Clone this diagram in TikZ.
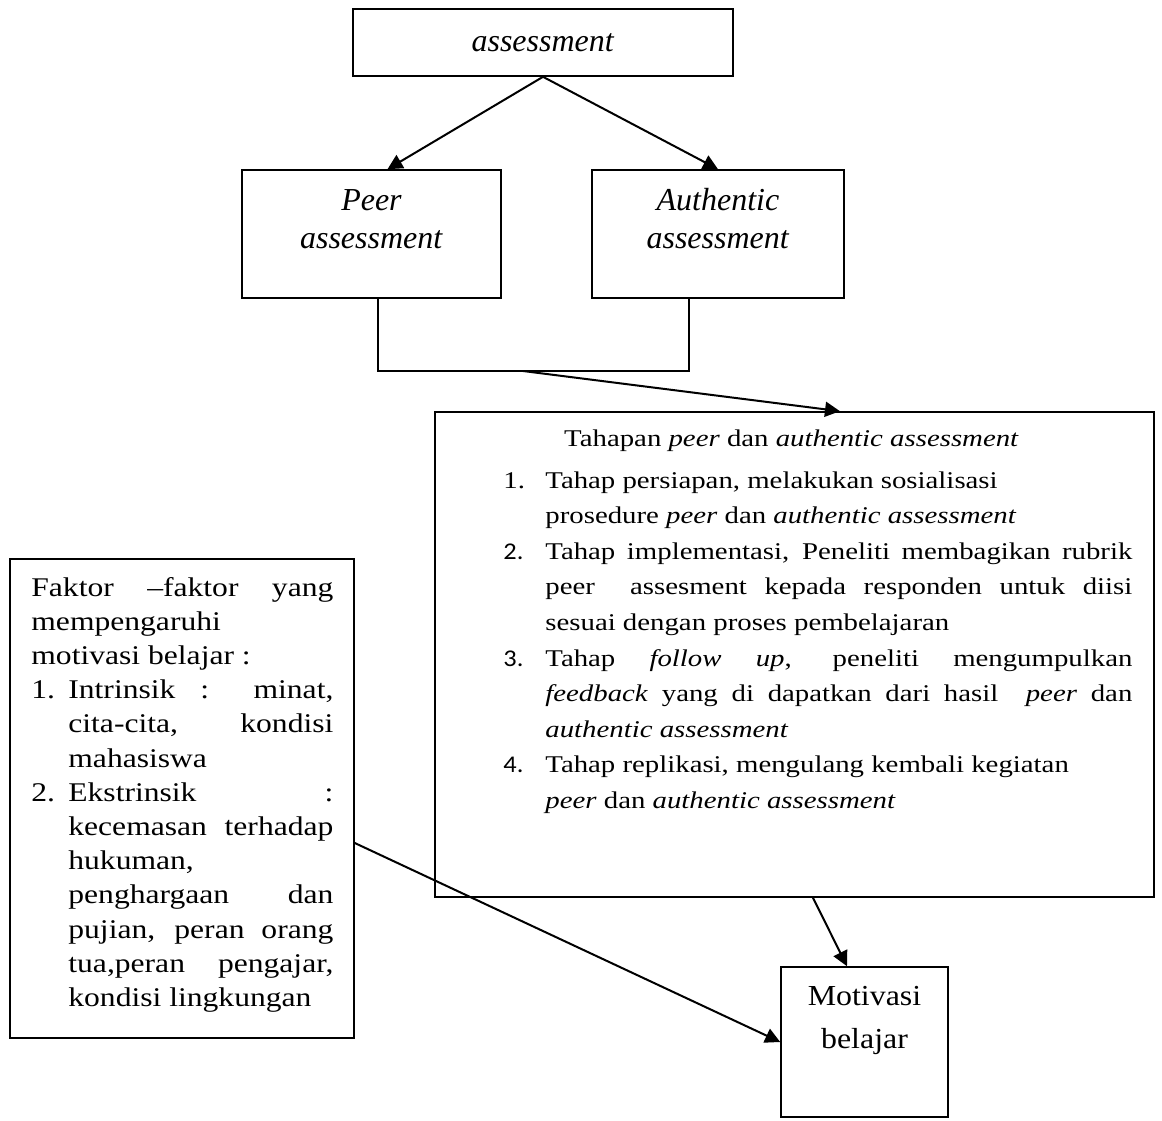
\documentclass[tikz,border=0pt]{standalone}
\usepackage{fontspec}
\setmainfont{Liberation Serif}
\newfontfamily\wideserif{Liberation Serif}[FakeStretch=1.2]
\newfontfamily\midserif{Liberation Serif}[FakeStretch=1.17]
\newfontfamily\lowserif{Liberation Serif}[FakeStretch=1.1]
\newfontfamily\calnum{Carlito}[FakeStretch=1.1]
\usetikzlibrary{arrows.meta,positioning}
\newcommand{\hangitem}[2]{\par\noindent\hangindent=#1\hangafter=1\makebox[#1][l]{#2}}
\hbadness=10000

\begin{document}
\begin{tikzpicture}
	[x=0.5pt,y=-0.5pt,
	box/.style={draw,line width=0.8pt,inner sep=0pt},
	txt/.style={inner sep=0pt,anchor=base},
	arr/.style={-{Triangle[length=7.5pt,width=7.5pt]},line width=1pt}]
	\useasboundingbox (0,0) rectangle (1162,1120);
	\node (asm) [box,minimum width=190pt,minimum height=33.5pt] at (543,42.5) {\fontsize{16}{19}\selectfont\textit{assessment}};
	\node (peer) [box,minimum width=129.5pt,minimum height=64pt] at (371.5,234) {};
	\node (auth) [box,minimum width=126pt,minimum height=64pt] at (718,234) {};
	\node (steps) [box,minimum width=359.5pt,minimum height=242.5pt] at (794.5,654.5) {};
	\node (faktor) [box,minimum width=172pt,minimum height=239.5pt] at (182,798.5) {};
	\node (motiv) [box,minimum width=83.5pt,minimum height=75pt] at (864.5,1042) {};
	
	\node (peertxt) [txt] at (371.5,210) {\parbox[t]{125pt}{\centering\fontsize{16}{19}\selectfont\textit{Peer}\\\textit{assessment}}};
	\node (authtxt) [txt] at (718,210) {\parbox[t]{122pt}{\centering\fontsize{16}{19}\selectfont\textit{Authentic}\\\textit{assessment}}};
	
	\node (stepstitle) [txt] at (791.5,446) {\wideserif\fontsize{12}{17.8}\selectfont Tahapan \textit{peer} dan \textit{authentic assessment}};
	\node (steplist) [txt,anchor=base west] at (503,488) {\parbox[t]{314.5pt}{\wideserif\fontsize{12}{17.8}\selectfont
		\hangitem{21pt}{1.}Tahap persiapan, melakukan sosialisasi\newline prosedure \textit{peer} dan \textit{authentic assessment}
		\hangitem{21pt}{\calnum 2.}Tahap implementasi, Peneliti membagikan rubrik\linebreak peer\ \ assesment kepada responden untuk diisi\linebreak sesuai dengan proses pembelajaran
		\hangitem{21pt}{\calnum 3.}Tahap \textit{follow up}, peneliti mengumpulkan\linebreak \textit{feedback} yang di dapatkan dari hasil\ \ \textit{peer} dan\linebreak \textit{authentic assessment}
		\hangitem{21pt}{\calnum 4.}Tahap replikasi, mengulang kembali kegiatan\newline \textit{peer} dan \textit{authentic assessment}}};
	
	\node (faktortxt) [txt,anchor=base west] at (31,596) {\parbox[t]{151pt}{\midserif\fontsize{13.5}{17.1}\selectfont
		Faktor –faktor yang\linebreak mempengaruhi\newline motivasi belajar :
		\hangitem{18.5pt}{1.}Intrinsik : minat,\linebreak cita-cita, kondisi\linebreak mahasiswa
		\hangitem{18.5pt}{2.}Ekstrinsik :\linebreak kecemasan terhadap\linebreak hukuman,\newline penghargaan dan\linebreak pujian, peran orang\linebreak tua,peran pengajar,\linebreak kondisi lingkungan}};
	
	\node (motivtxt) [txt] at (864.5,1005) {\parbox[t]{83.5pt}{\centering\lowserif\fontsize{14.5}{21.5}\selectfont Motivasi\\belajar}};
	
	\coordinate (jl) at (378,371);
	\coordinate (jr) at (689,371);
	\coordinate (jm) at (523,371);
	
	\draw [arr] (asm.south) -- ([xshift=8pt]peer.north);
	\draw [arr] (asm.south) -- (auth.north);
	\draw [line width=0.8pt] (peer.south -| jl) -- (jl) -- (jr) -- (auth.south -| jr);
	\draw [arr] (jm) -- ([xshift=22.75pt]steps.north);
	\draw [arr] ([xshift=9.25pt]steps.south) -- ([xshift=-8.75pt]motiv.north);
	\draw [arr] ([yshift=-22.25pt]faktor.east) -- (motiv.west);
\end{tikzpicture}
\end{document}
